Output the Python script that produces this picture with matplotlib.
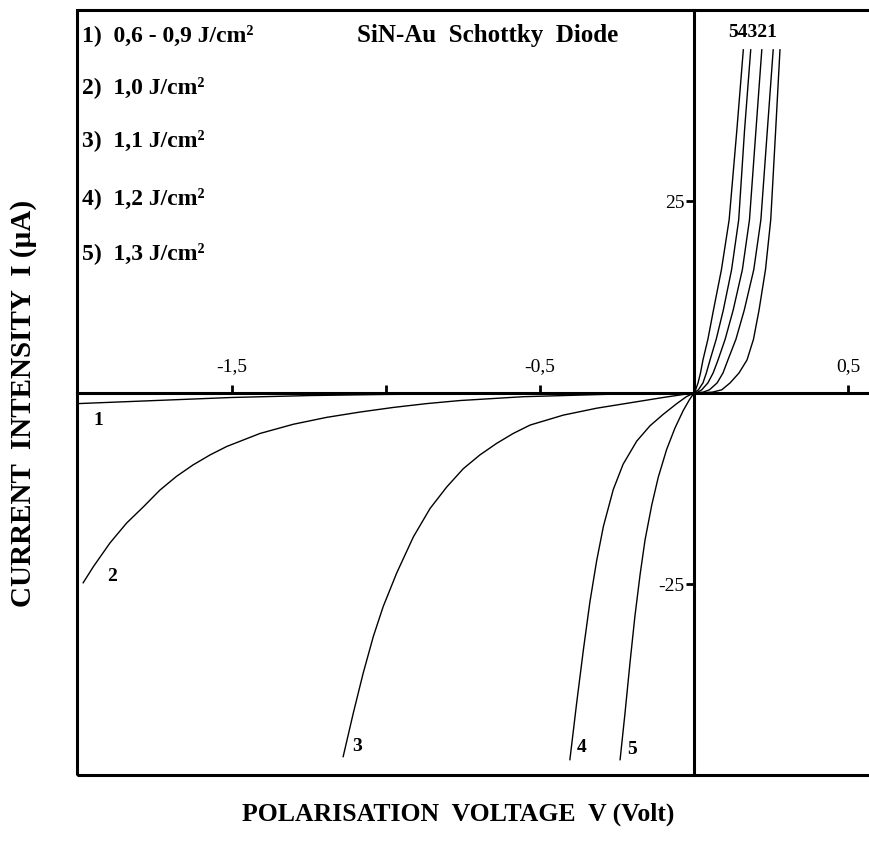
import matplotlib
matplotlib.use("Agg")
import matplotlib.pyplot as plt
from matplotlib.patches import Rectangle

plt.rcParams['font.family'] = ['Liberation Serif', 'DejaVu Serif']

# I-V curves (V in volt, I in microampere)
v1 = [-2.0, -1.75, -1.5, -1.25, -1.0, -0.5, 0.0, 0.03, 0.06, 0.09, 0.117, 0.146,
      0.172, 0.193, 0.211, 0.232, 0.249, 0.265, 0.279]
i1 = [-1.4, -1.0, -0.6, -0.35, -0.2, -0.06, 0.0, 0.02, 0.1, 0.4, 1.3, 2.6,
      4.3, 7.0, 10.8, 16.1, 22.6, 34.3, 44.8]

v2 = [-1.983, -1.950, -1.896, -1.842, -1.788, -1.734, -1.680, -1.626, -1.571, -1.517,
      -1.409, -1.301, -1.193, -1.084, -0.976, -0.868, -0.760, -0.555, -0.25, 0.0,
      0.03, 0.050, 0.075, 0.094, 0.110, 0.136, 0.163, 0.194, 0.217, 0.238, 0.257]
i2 = [-24.8, -22.7, -19.6, -17.0, -14.9, -12.7, -10.9, -9.4, -8.1, -7.0,
      -5.3, -4.1, -3.2, -2.5, -1.9, -1.4, -1.0, -0.5, -0.15, 0.0,
      0.1, 0.4, 1.3, 2.6, 4.3, 7.0, 10.8, 16.1, 22.6, 34.3, 44.8]

v3 = [-1.139, -1.106, -1.074, -1.041, -1.009, -0.965, -0.911, -0.857, -0.803, -0.749,
      -0.695, -0.641, -0.587, -0.532, -0.424, -0.316, -0.208, -0.100, 0.0,
      0.012, 0.025, 0.045, 0.062, 0.078, 0.101, 0.127, 0.157, 0.180, 0.201, 0.220]
i3 = [-47.5, -41.8, -36.6, -31.8, -27.9, -23.5, -18.8, -15.1, -12.3, -9.9,
      -8.1, -6.6, -5.3, -4.2, -2.9, -2.0, -1.3, -0.6, 0.0,
      0.1, 0.4, 1.3, 2.6, 4.3, 7.0, 10.8, 16.1, 22.6, 34.3, 44.8]

v4 = [-0.403, -0.381, -0.359, -0.338, -0.316, -0.294, -0.262, -0.230, -0.186, -0.143,
      -0.100, -0.056, -0.025, 0.0, 0.014, 0.029, 0.040, 0.052, 0.072, 0.095, 0.122,
      0.145, 0.164, 0.184]
i4 = [-47.9, -40.5, -33.5, -27.3, -21.9, -17.4, -12.6, -9.3, -6.3, -4.3,
      -2.8, -1.4, -0.5, 0.0, 0.4, 1.3, 2.6, 4.3, 7.0, 10.8, 16.1,
      22.6, 34.3, 44.8]

v5 = [-0.240, -0.224, -0.208, -0.192, -0.175, -0.159, -0.137, -0.116, -0.089, -0.062,
      -0.035, -0.015, 0.0, 0.005, 0.013, 0.021, 0.029, 0.045, 0.063, 0.089, 0.114,
      0.139, 0.160]
i5 = [-47.9, -41.8, -35.3, -29.2, -23.7, -19.2, -14.6, -11.0, -7.4, -4.6,
      -2.3, -0.9, 0.0, 0.4, 1.3, 2.6, 4.3, 7.0, 10.8, 16.1, 22.6,
      34.3, 44.8]

curves = [(v1, i1), (v2, i2), (v3, i3), (v4, i4), (v5, i5)]

fluences = ["1)  0,6 - 0,9 J/cm²", "2)  1,0 J/cm²", "3)  1,1 J/cm²",
            "4)  1,2 J/cm²", "5)  1,3 J/cm²"]
fluence_y = [46.7, 39.9, 33.0, 25.5, 18.3]

x_ticks = [-1.5, -1.0, -0.5, 0.5]
x_ticklabels = ["-1,5", "", "-0,5", "0,5"]
y_ticks = [-25, 25]
y_ticklabels = ["-25", "25"]

# curve number labels (text, x, y)
curve_labels = [("1", -1.935, -3.6), ("2", -1.890, -24.0), ("3", -1.094, -46.2),
                ("4", -0.364, -46.3), ("5", -0.201, -46.6), ("54321", 0.190, 47.0)]

fig = plt.figure(figsize=(8.69, 8.41), dpi=100)
ax = fig.add_axes([77 / 869, 1 - 775 / 841, 1 - 77 / 869, (775 - 10) / 841])
ax.set_xlim(-2.003, 0.568)
ax.set_ylim(-49.9, 50.0)

for v, i in curves:
    ax.plot(v, i, color="black", lw=1.0)

# axes crossing at the origin
for s in ["bottom", "right"]:
    ax.spines[s].set_visible(False)
ax.spines["top"].set_position(("data", 0))
ax.spines["left"].set_position(("data", 0))
ax.spines["top"].set_linewidth(2.2)
ax.spines["left"].set_linewidth(2.2)
ax.xaxis.set_ticks_position("top")
ax.yaxis.set_ticks_position("left")

ax.set_xticks(x_ticks)
ax.set_xticklabels(x_ticklabels)
ax.set_yticks(y_ticks)
ax.set_yticklabels(y_ticklabels)
ax.tick_params(axis="x", direction="out", length=6, width=2, pad=7, labelsize=14)
ax.tick_params(axis="y", direction="out", length=6, width=2, pad=1, labelsize=14)

# outer frame (right side runs off the picture)
ax.add_patch(Rectangle((0, 0), 1.3, 1, transform=ax.transAxes, fill=False,
                       lw=2.2, color="black", clip_on=False))

for txt, y in zip(fluences, fluence_y):
    ax.text(-1.988, y, txt, ha="left", va="center", fontsize=17, fontweight="bold")
ax.text(-1.095, 46.7, "SiN-Au  Schottky  Diode", ha="left", va="center",
        fontsize=18, fontweight="bold")

for txt, x, y in curve_labels:
    ax.text(x, y, txt, ha="center", va="center", fontsize=14, fontweight="bold")

fig.text(458 / 869, 1 - 814 / 841, "POLARISATION  VOLTAGE  V (Volt)", ha="center",
         va="center", fontsize=18.5, fontweight="bold")
fig.text(24 / 869, 1 - 403 / 841, "CURRENT  INTENSITY  I (µA)", ha="center",
         va="center", rotation=90, fontsize=21, fontweight="bold")

fig.savefig("out.png", dpi=100)
